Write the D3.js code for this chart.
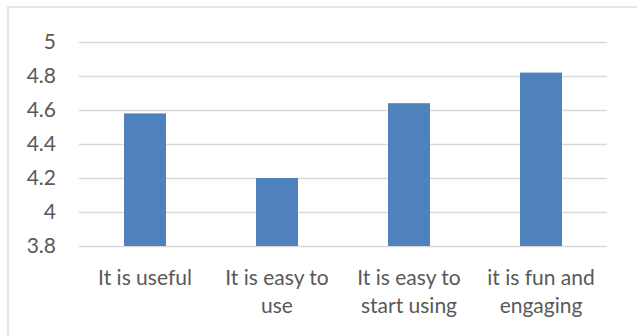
<!DOCTYPE html>
<html><head><meta charset="utf-8">
<script src="https://cdn.jsdelivr.net/npm/d3@7"></script>
<style>body{margin:0;background:#fff;}svg{display:block;}</style>
</head><body>
<svg id="c" width="637" height="335"></svg>
<script>
const categories = [["It is useful"], ["It is easy to", "use"], ["It is easy to", "start using"], ["it is fun and", "engaging"]];
const values = [4.58, 4.20, 4.64, 4.82];
const yTicks = [3.8, 4, 4.2, 4.4, 4.6, 4.8, 5];
const yTickLabels = ["3.8", "4", "4.2", "4.4", "4.6", "4.8", "5"];

(function () {
const svg = d3.select("#c");
const mLeft = 79, mRight = 607, mTop = 42, mBottom = 246;
const font = "Lato, 'Open Sans', sans-serif";
const textColor = "#595959";

// outer chart border (top and left visible)
svg.append("rect").attr("x", 8).attr("y", 7).attr("width", 640).attr("height", 340)
  .attr("fill", "none").attr("stroke", "#d9d9d9").attr("stroke-width", 1.3);

const x = d3.scaleBand().domain(d3.range(categories.length)).range([mLeft, mRight]).padding(0);
const y = d3.scaleLinear().domain([3.8, 5]).range([mBottom, mTop]);

const yAxis = d3.axisLeft(y).tickValues(yTicks).tickSize(-(mRight - mLeft)).tickPadding(23)
  .tickFormat((d, i) => yTickLabels[i]);
const gy = svg.append("g").attr("transform", `translate(${mLeft},0)`).call(yAxis);
gy.select(".domain").remove();
gy.selectAll(".tick line").attr("stroke", "#d9d9d9").attr("stroke-width", 1.5);
gy.selectAll(".tick text").attr("fill", textColor).style("font-family", font).style("font-size", "21px");

const barW = x.bandwidth() * 0.318;
svg.append("g").selectAll("rect").data(values).join("rect")
  .attr("x", (d, i) => x(i) + x.bandwidth() / 2 - barW / 2)
  .attr("width", barW)
  .attr("y", d => y(d))
  .attr("height", d => y(3.8) - y(d))
  .attr("fill", "#4f81bd");

const xAxis = d3.axisBottom(x).tickSize(0).tickFormat(() => "");
const gx = svg.append("g").attr("transform", `translate(0,${mBottom})`).call(xAxis);
gx.select(".domain").remove();
gx.selectAll(".tick").each(function(d) {
  const t = d3.select(this).append("text").attr("fill", textColor)
    .style("font-family", font).style("font-size", "21px").attr("text-anchor", "middle");
  categories[d].forEach((line, j) => {
    t.append("tspan").attr("x", 0).attr("y", 39 + j * 28).text(line);
  });
});
})();
</script>
</body></html>
